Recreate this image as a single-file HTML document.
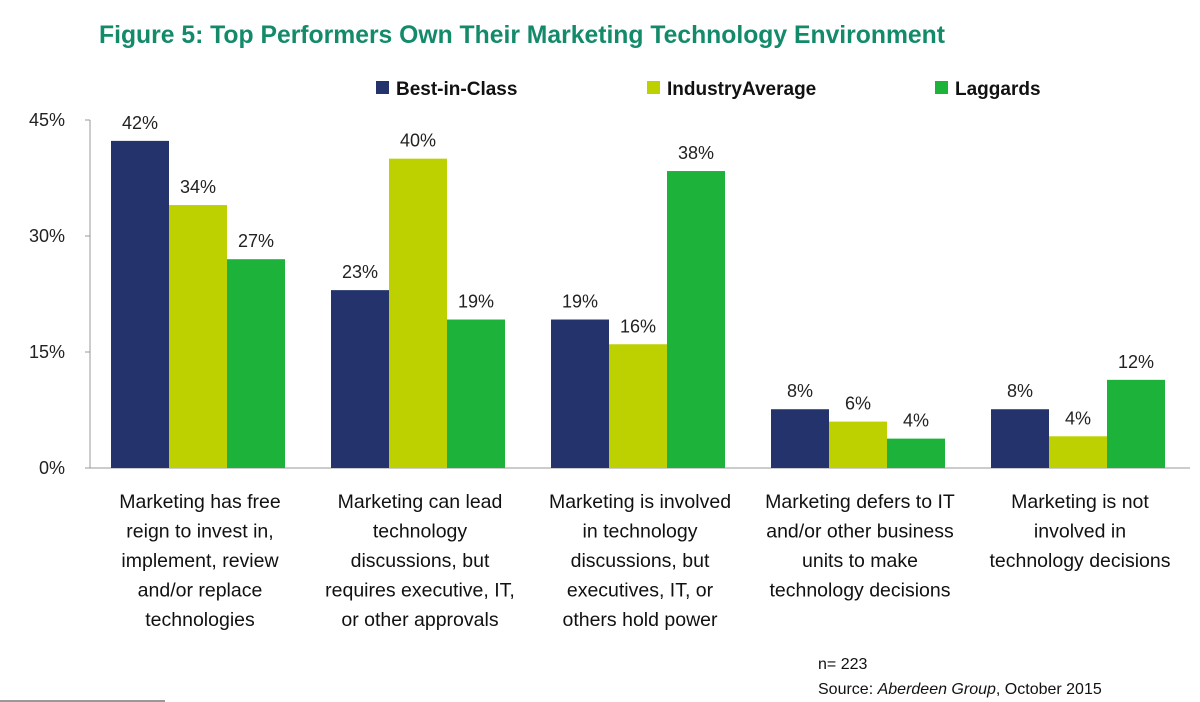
<!DOCTYPE html>
<html><head><meta charset="utf-8"><style>
html,body{margin:0;padding:0;background:#fff;width:1200px;height:702px;overflow:hidden;font-family:"Liberation Sans",sans-serif}
svg text{font-family:"Liberation Sans",sans-serif}
</style></head><body>
<svg id="chart" width="1200" height="702">
<text x="99" y="43" font-size="25" font-weight="bold" fill="#138a6a" textLength="846" lengthAdjust="spacingAndGlyphs">Figure 5: Top Performers Own Their Marketing Technology Environment</text>
<g id="legend"></g>
<g id="axes"></g>
<g id="bars"></g>
<text x="818" y="669" font-size="16" fill="#111">n= 223</text>
<text x="818" y="694" font-size="16" fill="#111">Source: <tspan font-style="italic">Aberdeen Group</tspan>, October 2015</text>
<line x1="0" y1="701" x2="165" y2="701" stroke="#333" stroke-width="1"/>
</svg>
<script>
const categories=[["Marketing has free","reign to invest in,","implement, review","and/or replace","technologies"],["Marketing can lead","technology","discussions, but","requires executive, IT,","or other approvals"],["Marketing is involved","in technology","discussions, but","executives, IT, or","others hold power"],["Marketing defers to IT","and/or other business","units to make","technology decisions"],["Marketing is not","involved in","technology decisions"]];
const seriesNames=["Best-in-Class","IndustryAverage","Laggards"];
const bestInClass=[42.3,23,19.2,7.6,7.6];
const industryAvg=[34,40,16,6,4.1];
const laggards=[27,19.2,38.4,3.8,11.4];
const bicLabels=["42%","23%","19%","8%","8%"];
const iaLabels=["34%","40%","16%","6%","4%"];
const lagLabels=["27%","19%","38%","4%","12%"];
const yTicks=[0,15,30,45];
const yTickLabels=["0%","15%","30%","45%"];
const colors=["#24336b","#bdd000","#1db33b"];
const NS="http://www.w3.org/2000/svg";
const x0=90,groupW=220,barW=58,barOff=21,y0=468,pxPer=348/45;
const yScale=v=>y0-v*pxPer;
const xScale=(g,s)=>x0+g*groupW+barOff+s*barW;
function mk(tag,attrs,parent){const e=document.createElementNS(NS,tag);for(const k in attrs)e.setAttribute(k,attrs[k]);parent.appendChild(e);return e;}
const axes=document.getElementById('axes'),bars=document.getElementById('bars'),legend=document.getElementById('legend');
yTicks.forEach((t,i)=>{const y=yScale(t);
const l=mk('line',{x1:x0-5,x2:x0,y1:y,y2:y,stroke:'#999'},axes);


const tx=mk('text',{x:65,y:y+6,'font-size':18,fill:'#222','text-anchor':'end'},axes);tx.textContent=yTickLabels[i];

});
const ya=mk('line',{x1:x0,x2:x0,y1:yScale(45),y2:y0,stroke:'#999'},axes);


const xa=mk('line',{x1:x0,x2:x0+5*groupW,y1:y0,y2:y0,stroke:'#999'},axes);


const series=[bestInClass,industryAvg,laggards],labels=[bicLabels,iaLabels,lagLabels];
categories.forEach((cat,g)=>{
 series.forEach((arr,s)=>{const x=xScale(g,s),y=yScale(arr[g]);
  const r=mk('rect',{x:x,y:y,width:barW,height:y0-y,fill:colors[s]},bars);
  
  
  const t=mk('text',{x:x+barW/2,y:y-12,'font-size':18,fill:'#222','text-anchor':'middle'},bars);t.textContent=labels[s][g];
  
  });
 const cx=x0+g*groupW+groupW/2;
 cat.forEach((line,i)=>{const t=mk('text',{x:cx,y:508+i*29.5,'font-size':19.5,fill:'#111','text-anchor':'middle'},axes);t.textContent=line;
  
  });
});
const legX=[376,647,935];
seriesNames.forEach((n,i)=>{
 const r=mk('rect',{x:legX[i],y:81,width:13,height:13,fill:colors[i]},legend);
 
 
 const t=mk('text',{x:legX[i]+20,y:95,'font-size':19,'font-weight':'bold',fill:'#111'},legend);t.textContent=n;
 
 });
</script>
</body></html>
